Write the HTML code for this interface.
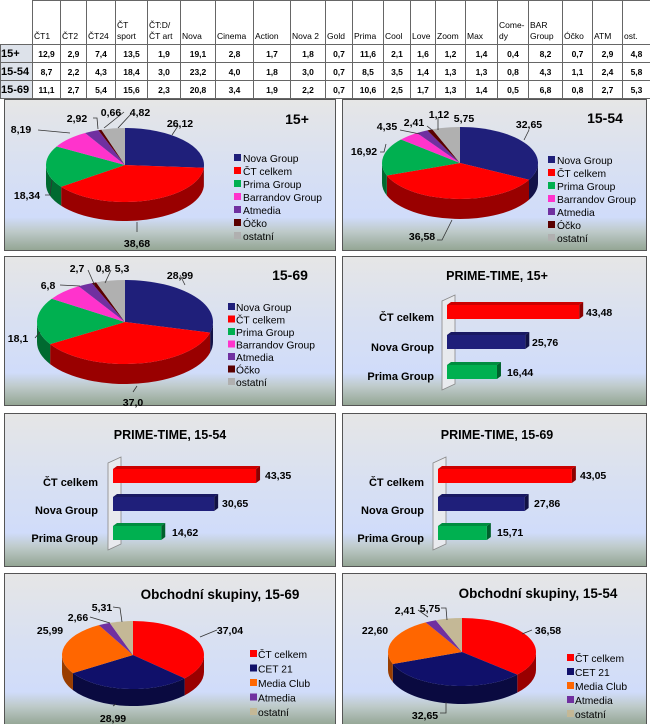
<!DOCTYPE html>
<html><head><meta charset="utf-8">
<style>
html,body{margin:0;padding:0;background:#fff;}
body{width:650px;height:724px;position:relative;overflow:hidden;font-family:"Liberation Sans",sans-serif;}
table{position:absolute;left:0;top:0;border-collapse:collapse;table-layout:fixed;width:650px;}
td{border:1px solid #666;padding:0 1px;font-size:8.5px;font-weight:bold;text-align:center;color:#000;overflow:hidden;white-space:nowrap;}
tr.h td{height:41px;vertical-align:bottom;text-align:left;font-weight:normal;font-size:8.5px;line-height:11px;padding-bottom:2px;white-space:normal;}
tr.r td{height:17px;}
tr.r td:first-child{font-size:11px;text-align:left;background:#dde2ea;padding:0;}
svg{position:absolute;left:0;top:0;}
.t{font-family:"Liberation Sans",sans-serif;font-weight:bold;fill:#000;}
.lg{font-family:"Liberation Sans",sans-serif;font-size:10.3px;fill:#000;}
</style></head><body>
<table>
<colgroup><col style="width:32px"><col style="width:28px"><col style="width:26px"><col style="width:29px"><col style="width:32px"><col style="width:33px"><col style="width:35px"><col style="width:38px"><col style="width:37px"><col style="width:35px"><col style="width:27px"><col style="width:31px"><col style="width:27px"><col style="width:25px"><col style="width:30px"><col style="width:32px"><col style="width:31px"><col style="width:34px"><col style="width:30px"><col style="width:30px"><col style="width:28px"></colgroup>
<tr class="h"><td style="border-left:none;border-top:none"></td><td>ČT1</td><td>ČT2</td><td>ČT24</td><td>ČT sport</td><td>ČT:D/ ČT art</td><td>Nova</td><td>Cinema</td><td>Action</td><td>Nova 2</td><td>Gold</td><td>Prima</td><td>Cool</td><td>Love</td><td>Zoom</td><td>Max</td><td>Come-dy</td><td>BAR Group</td><td>Óčko</td><td>ATM</td><td>ost.</td></tr>
<tr class="r"><td>15+</td><td>12,9</td><td>2,9</td><td>7,4</td><td>13,5</td><td>1,9</td><td>19,1</td><td>2,8</td><td>1,7</td><td>1,8</td><td>0,7</td><td>11,6</td><td>2,1</td><td>1,6</td><td>1,2</td><td>1,4</td><td>0,4</td><td>8,2</td><td>0,7</td><td>2,9</td><td>4,8</td></tr>
<tr class="r"><td>15-54</td><td>8,7</td><td>2,2</td><td>4,3</td><td>18,4</td><td>3,0</td><td>23,2</td><td>4,0</td><td>1,8</td><td>3,0</td><td>0,7</td><td>8,5</td><td>3,5</td><td>1,4</td><td>1,3</td><td>1,3</td><td>0,8</td><td>4,3</td><td>1,1</td><td>2,4</td><td>5,8</td></tr>
<tr class="r"><td>15-69</td><td>11,1</td><td>2,7</td><td>5,4</td><td>15,6</td><td>2,3</td><td>20,8</td><td>3,4</td><td>1,9</td><td>2,2</td><td>0,7</td><td>10,6</td><td>2,5</td><td>1,7</td><td>1,3</td><td>1,4</td><td>0,5</td><td>6,8</td><td>0,8</td><td>2,7</td><td>5,3</td></tr>
</table>
<svg width="650" height="724" viewBox="0 0 650 724" style="top:0">
<defs>
<linearGradient id="bg" x1="0" y1="0" x2="0" y2="1">
<stop offset="0" stop-color="#e6e6e6"/><stop offset="0.45" stop-color="#d8e0f2"/><stop offset="0.78" stop-color="#d0dcfa"/><stop offset="0.87" stop-color="#bfcbcb"/><stop offset="1" stop-color="#93a593"/>
</linearGradient>
</defs>
<g fill="url(#bg)" stroke="#555" stroke-width="1">
<rect x="4.5" y="99.5" width="331" height="151"/>
<rect x="342.5" y="99.5" width="304" height="151"/>
<rect x="4.5" y="256.5" width="331" height="149"/>
<rect x="342.5" y="256.5" width="304" height="149"/>
<rect x="4.5" y="413.5" width="331" height="153"/>
<rect x="342.5" y="413.5" width="304" height="153"/>
<rect x="4.5" y="573.5" width="331" height="152"/>
<rect x="342.5" y="573.5" width="304" height="152"/>
</g>
<g id="p1"></g><g id="p2"></g><g id="p3"></g><g id="p7"></g><g id="p8"></g>
<g id="b4"></g><g id="b5"></g><g id="b6"></g>

<g stroke="#333" stroke-width="0.8" fill="none">
<polyline points="170,126 178,126 172,135"/>
<polyline points="137,232 137,222"/>
<polyline points="45,195 50,195 52,180"/>
<polyline points="38,130 70,133"/>
<polyline points="93,118 97,118 98,129"/>
<polyline points="124,112 104,128"/>
<polyline points="131,114 118,128"/>
<polyline points="529,130 524,140"/>
<polyline points="437,240 442,240 452,220"/>
<polyline points="380,152 384,152 386,144"/>
<polyline points="400,130 420,134"/>
<polyline points="427,126 432,130"/>
<polyline points="438,118 438,130"/>
<polyline points="180,275 185,285"/>
<polyline points="133,392 137,386"/>
<polyline points="35,338 40,332"/>
<polyline points="60,285 80,286"/>
<polyline points="88,270 95,286"/>
<polyline points="111,270 105,283"/>
<polyline points="217,630 200,637"/>
<polyline points="113,706 116,704"/>
<polyline points="90,617 110,623"/>
<polyline points="113,607 120,608 122,622"/>
<polyline points="532,630 522,634"/>
<polyline points="440,713 446,713 446,702"/>
<polyline points="418,610 428,617"/>
<polyline points="441,608 446,608 447,620"/>
</g>

<text class="t" x="297" y="124" font-size="14" text-anchor="middle">15+</text>
<g class="t" font-size="10.5" text-anchor="middle">
<text x="180" y="127">26,12</text><text x="137" y="247">38,68</text><text x="27" y="199">18,34</text>
<text x="21" y="133">8,19</text><text x="77" y="122">2,92</text><text x="111" y="116">0,66</text><text x="140" y="116">4,82</text>
</g>
<text class="t" x="605" y="123" font-size="14" text-anchor="middle">15-54</text>
<g class="t" font-size="10.5" text-anchor="middle">
<text x="529" y="128">32,65</text><text x="422" y="240">36,58</text><text x="364" y="155">16,92</text>
<text x="387" y="130">4,35</text><text x="414" y="126">2,41</text><text x="439" y="118">1,12</text><text x="464" y="122">5,75</text>
</g>
<text class="t" x="290" y="280" font-size="14" text-anchor="middle">15-69</text>
<g class="t" font-size="10.5" text-anchor="middle">
<text x="180" y="279">28,99</text><text x="133" y="406">37,0</text><text x="18" y="342">18,1</text>
<text x="48" y="289">6,8</text><text x="77" y="272">2,7</text><text x="103" y="272">0,8</text><text x="122" y="272">5,3</text>
</g>
<text class="t" x="220" y="599" font-size="13.5" text-anchor="middle">Obchodní skupiny, 15-69</text>
<g class="t" font-size="10.5" text-anchor="middle">
<text x="230" y="634">37,04</text><text x="113" y="722">28,99</text><text x="50" y="634">25,99</text>
<text x="78" y="621">2,66</text><text x="102" y="611">5,31</text>
</g>
<text class="t" x="538" y="598" font-size="13.5" text-anchor="middle">Obchodní skupiny, 15-54</text>
<g class="t" font-size="10.5" text-anchor="middle">
<text x="548" y="634">36,58</text><text x="425" y="719">32,65</text><text x="375" y="634">22,60</text>
<text x="405" y="614">2,41</text><text x="430" y="612">5,75</text>
</g>

<g id="lg1"></g>
<g class="lg">
<text x="243" y="162">Nova Group</text><text x="243" y="175">ČT celkem</text><text x="243" y="188">Prima Group</text><text x="243" y="201">Barrandov Group</text><text x="243" y="214">Atmedia</text><text x="243" y="227">Óčko</text><text x="243" y="240">ostatní</text>
<text x="557" y="164">Nova Group</text><text x="557" y="177">ČT celkem</text><text x="557" y="190">Prima Group</text><text x="557" y="203">Barrandov Group</text><text x="557" y="216">Atmedia</text><text x="557" y="229">Óčko</text><text x="557" y="242">ostatní</text>
<text x="236" y="311">Nova Group</text><text x="236" y="323.5">ČT celkem</text><text x="236" y="336">Prima Group</text><text x="236" y="348.5">Barrandov Group</text><text x="236" y="361">Atmedia</text><text x="236" y="373.5">Óčko</text><text x="236" y="386">ostatní</text>
<text x="258" y="658">ČT celkem</text><text x="258" y="672.5">CET 21</text><text x="258" y="687">Media Club</text><text x="258" y="701.5">Atmedia</text><text x="258" y="716">ostatní</text>
<text x="575" y="662">ČT celkem</text><text x="575" y="676">CET 21</text><text x="575" y="690">Media Club</text><text x="575" y="704">Atmedia</text><text x="575" y="718">ostatní</text>
</g>

<text class="t" x="497" y="280" font-size="12.5" text-anchor="middle">PRIME-TIME,  15+</text>
<g class="t" font-size="11" text-anchor="end">
<text x="434" y="321">ČT celkem</text><text x="434" y="351">Nova Group</text><text x="434" y="380">Prima Group</text>
</g>
<g class="t" font-size="10.5" text-anchor="start">
<text x="586" y="316">43,48</text><text x="532" y="346">25,76</text><text x="507" y="376">16,44</text>
</g>
<text class="t" x="170" y="439" font-size="12.5" text-anchor="middle">PRIME-TIME,  15-54</text>
<g class="t" font-size="11" text-anchor="end">
<text x="98" y="486">ČT celkem</text><text x="98" y="514">Nova Group</text><text x="98" y="542">Prima Group</text>
</g>
<g class="t" font-size="10.5" text-anchor="start">
<text x="265" y="479">43,35</text><text x="222" y="507">30,65</text><text x="172" y="536">14,62</text>
</g>
<text class="t" x="497" y="439" font-size="12.5" text-anchor="middle">PRIME-TIME,  15-69</text>
<g class="t" font-size="11" text-anchor="end">
<text x="424" y="486">ČT celkem</text><text x="424" y="514">Nova Group</text><text x="424" y="542">Prima Group</text>
</g>
<g class="t" font-size="10.5" text-anchor="start">
<text x="580" y="479">43,05</text><text x="534" y="507">27,86</text><text x="497" y="536">15,71</text>
</g>
</svg>
<script>
var NS="http://www.w3.org/2000/svg";
function el(g,tag,attrs){var e=document.createElementNS(NS,tag);for(var k in attrs)e.setAttribute(k,attrs[k]);g.appendChild(e);return e;}
function dark(h,f){var n=parseInt(h.slice(1),16);var r=Math.round(((n>>16)&255)*f),g=Math.round(((n>>8)&255)*f),b=Math.round((n&255)*f);return "rgb("+r+","+g+","+b+")";}
function pie(id,cx,cy,rx,ry,d,vals,cols){
 var g=document.getElementById(id);var t=0;vals.forEach(function(v){t+=v;});
 function p(a,dy){return (cx+rx*Math.cos(a)).toFixed(2)+","+(cy+ry*Math.sin(a)+(dy||0)).toFixed(2);}
 var a=-Math.PI/2,segs=[];
 vals.forEach(function(v,i){var a2=a+v/t*2*Math.PI;segs.push([a,a2,cols[i]]);a=a2;});
 segs.forEach(function(s){var st=Math.max(s[0],0),en=Math.min(s[1],Math.PI);
  if(st<en){el(g,"path",{d:"M"+p(st)+" A"+rx+","+ry+" 0 0 1 "+p(en)+" L"+p(en,d)+" A"+rx+","+ry+" 0 0 0 "+p(st,d)+" Z",fill:dark(s[2],0.6)});}});
 segs.forEach(function(s){var lg=(s[1]-s[0])>Math.PI?1:0;
  el(g,"path",{d:"M"+cx+","+cy+" L"+p(s[0])+" A"+rx+","+ry+" 0 "+lg+" 1 "+p(s[1])+" Z",fill:s[2]});});
}
var C7=["#1f1f7a","#ff0000","#00b050","#ff33cc","#7030a0","#5a0000","#b0b0b0"];
pie("p1",125,165,79,37,19,[26.12,38.68,18.34,8.19,2.92,0.66,4.82],C7);
pie("p2",460,163,78,36,20,[32.65,36.58,16.92,4.35,2.41,1.12,5.75],C7);
pie("p3",125,322,88,42,20,[28.99,37.0,18.1,6.8,2.7,0.8,5.3],C7);
var C5=["#ff0000","#10106a","#ff6600","#7030a0","#c4b896"];
pie("p7",133,655,71,34,17,[37.04,28.99,25.99,2.66,5.31],C5);
pie("p8",462,652,74,34,18,[36.58,32.65,22.60,2.41,5.75],C5);
var lgS=document.getElementById("lg1");
function leg(x,y,step,cols){cols.forEach(function(c,i){el(lgS,"rect",{x:x,y:y+i*step-8,width:7,height:7,fill:c});});}
leg(234,162,13,C7);leg(548,164,13,C7);leg(228,311,12.5,C7);leg(250,658,14.5,C5);leg(567,662,14,C5);
function bars(id,x0,sc,ys,vals,wy0,wy1){
 var g=document.getElementById(id);
 el(g,"polygon",{points:(x0-5)+","+(wy0+6)+" "+(x0+8)+","+wy0+" "+(x0+8)+","+(wy1-6)+" "+(x0-5)+","+wy1,fill:"#e8eaee",stroke:"#888","stroke-width":"0.8"});
 var cols=["#ff0000","#1f1f7a","#00b050"];
 vals.forEach(function(v,i){var y=ys[i],w=v*sc,h=14,x=x0;
  el(g,"polygon",{points:x+","+y+" "+(x+4)+","+(y-3)+" "+(x+w+4)+","+(y-3)+" "+(x+w)+","+y,fill:dark(cols[i],0.8)});
  el(g,"polygon",{points:(x+w)+","+y+" "+(x+w+4)+","+(y-3)+" "+(x+w+4)+","+(y+h-3)+" "+(x+w)+","+(y+h),fill:dark(cols[i],0.55)});
  el(g,"rect",{x:x,y:y,width:w,height:h,fill:cols[i]});});
}
bars("b4",447,3.04,[305,335,365],[43.48,25.76,16.44],295,390);
bars("b5",113,3.3,[469,497,526],[43.35,30.65,14.62],457,550);
bars("b6",438,3.11,[469,497,526],[43.05,27.86,15.71],457,550);
</script>
</body></html>
